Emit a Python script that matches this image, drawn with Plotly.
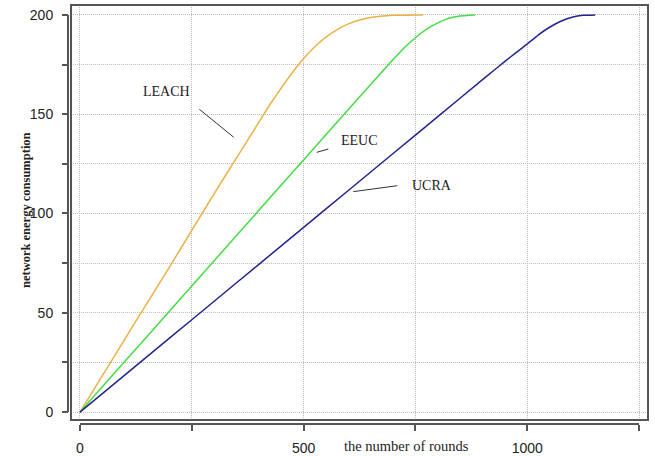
import plotly.graph_objects as go

# ---- data ----
leach_rounds = [0, 50, 100, 150, 200, 250, 300, 350, 400, 425, 450, 475, 500, 525, 550, 575, 600, 625, 650, 700, 767]
leach_energy = [0, 18.3, 36.6, 54.9, 73.0, 91.5, 110.0, 128.0, 146.0, 155.0, 163.2, 171.0, 178.0, 184.0, 188.8, 192.6, 195.5, 197.4, 198.7, 199.8, 200]

eeuc_rounds = [0, 100, 200, 300, 400, 500, 600, 650, 700, 725, 750, 775, 800, 825, 850, 883]
eeuc_energy = [0, 25.4, 50.8, 76.2, 101.6, 127.0, 152.4, 165.0, 177.5, 183.5, 188.5, 192.8, 196.0, 198.3, 199.5, 200]

ucra_rounds = [0, 100, 200, 300, 400, 500, 600, 700, 800, 900, 925, 950, 975, 1000, 1025, 1050, 1075, 1100, 1125, 1152]
ucra_energy = [0, 18.6, 37.2, 55.8, 74.4, 93.0, 111.6, 130.2, 148.8, 167.4, 172.0, 176.6, 181.0, 185.4, 190.0, 193.8, 196.8, 198.8, 199.8, 200]

x_ticks = [0, 250, 500, 750, 1000, 1250]
x_tick_labels = ["0", "", "500", "", "1000", ""]
y_ticks = [0, 25, 50, 75, 100, 125, 150, 175, 200]
y_tick_labels = ["0", "", "50", "", "100", "", "150", "", "200"]

series_names = ["LEACH", "EEUC", "UCRA"]
series_colors = ["#EDB245", "#44DD44", "#23238F"]

AX = "#555555"
GRID = "#BDBDBD"
TXT = "#222222"

fig = go.Figure()
for name, xs, ys, col in zip(series_names,
                             [leach_rounds, eeuc_rounds, ucra_rounds],
                             [leach_energy, eeuc_energy, ucra_energy],
                             series_colors):
    fig.add_trace(go.Scatter(x=xs, y=ys, mode="lines", name=name,
                             line=dict(color=col, width=1.5, shape="spline", smoothing=0.3)))

W, H = 655, 456
x_dom = [71 / W, 648 / W]
y_dom = [(H - 420) / H, (H - 5) / H]
x_axis_pos = (H - 424) / H
y_axis_pos = 68 / W

fig.update_layout(
    width=W, height=H,
    margin=dict(l=0, r=0, t=0, b=0),
    paper_bgcolor="white", plot_bgcolor="white",
    showlegend=False,
    font=dict(family="Liberation Sans", size=14, color=TXT),
    xaxis=dict(domain=x_dom, range=[-20.1, 1270], anchor="free", position=x_axis_pos,
               showline=False, zeroline=False,
               tickvals=x_ticks, ticktext=x_tick_labels,
               ticks="outside", ticklen=6, tickwidth=1.5, tickcolor=AX,
               ticklabelstandoff=5,
               showgrid=True, gridcolor=GRID, griddash="1px,1px", gridwidth=1),
    yaxis=dict(domain=y_dom, range=[-4, 205], anchor="free", position=y_axis_pos,
               showline=False, zeroline=False,
               tickvals=y_ticks, ticktext=y_tick_labels,
               ticks="outside", ticklen=6, tickwidth=1.5, tickcolor=AX,
               ticklabelstandoff=6,
               showgrid=True, gridcolor=GRID, griddash="1px,1px", gridwidth=1),
)

shapes = [
    # plot frame
    dict(type="rect", xref="paper", yref="paper", x0=x_dom[0], x1=x_dom[1], y0=y_dom[0], y1=y_dom[1],
         line=dict(color=AX, width=2)),
    # detached axis lines
    dict(type="line", xref="x", yref="paper", x0=0, x1=1250, y0=x_axis_pos, y1=x_axis_pos,
         line=dict(color=AX, width=2)),
    dict(type="line", xref="paper", yref="y", x0=y_axis_pos, x1=y_axis_pos, y0=0, y1=200,
         line=dict(color=AX, width=2)),
]

# label callouts: (text, text_x, text_y, line_x0, line_y0, line_x1, line_y1)
callouts = [
    ("LEACH", 193.4, 161.2, 266.8, 152.5, 343.7, 138.4),
    ("EEUC", 624.0, 136.8, 529.3, 130.8, 555.2, 132.5),
    ("UCRA", 786.0, 114.1, 611.1, 111.0, 709.5, 114.0),
]
annotations = []
for t, tx, ty, lx0, ly0, lx1, ly1 in callouts:
    annotations.append(dict(x=tx, y=ty, xref="x", yref="y", text=t, showarrow=False,
                            font=dict(family="Liberation Serif", size=14, color=TXT)))
    shapes.append(dict(type="line", xref="x", yref="y", x0=lx0, y0=ly0, x1=lx1, y1=ly1,
                       line=dict(color="#333333", width=1)))

annotations.append(dict(x=407 / W, y=(H - 446) / H, xref="paper", yref="paper",
                        text="the number of rounds", showarrow=False,
                        xanchor="center", yanchor="middle",
                        font=dict(family="Liberation Serif", size=14.5, color=TXT)))
annotations.append(dict(x=26 / W, y=(H - 210) / H, xref="paper", yref="paper",
                        text="<b>network energy consumption</b>", showarrow=False, textangle=-90,
                        xanchor="center", yanchor="middle",
                        font=dict(family="Liberation Serif", size=12.5, color=TXT)))

fig.update_layout(shapes=shapes, annotations=annotations)
fig.write_html("out.html", config={"displayModeBar": False},
               post_script="document.body.style.margin='0';document.body.style.padding='0';")
